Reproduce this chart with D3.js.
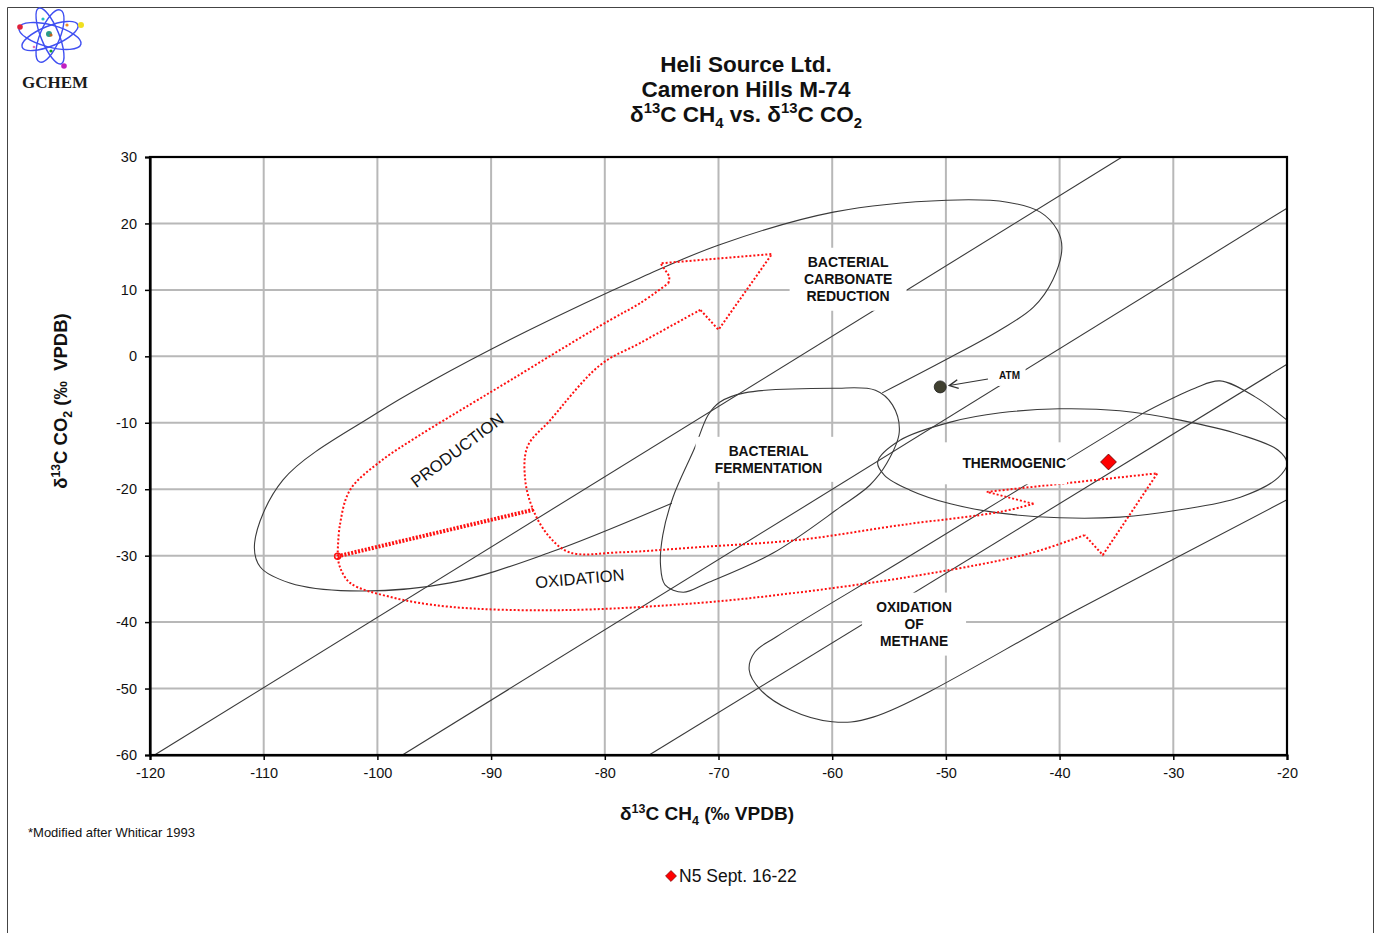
<!DOCTYPE html>
<html>
<head>
<meta charset="utf-8">
<script src="https://cdn.jsdelivr.net/npm/d3@7"></script>
<style>
  body { margin: 0; background: #fff; }
  text { font-family: "Liberation Sans", Arial, sans-serif; white-space: pre; }
</style>
</head>
<body>
<div id="container"></div>
<script>
let w = 1379;
let h = 933;

// ---- data (δ13C CH4, δ13C CO2) ----
let xTicks = [-120, -110, -100, -90, -80, -70, -60, -50, -40, -30, -20];
let yTicks = [30, 20, 10, 0, -10, -20, -30, -40, -50, -60];

// fractionation lines
let fracLines = [
  [[-119.6, -60], [-34.5, 30]],
  [[-97.8, -60], [-20, 22.3]],
  [[-76.1, -60], [-20, -1.2]]
];

// bacterial carbonate reduction field (open outline)
let carbonateField = [
  [-55.6, -5.5], [-50.1, -0.6], [-45.2, 4.0], [-42.3, 7.4], [-40.6, 11.5], [-39.8, 16.3],
  [-40.2, 19.0], [-41.7, 21.7], [-44.6, 23.2], [-49.9, 23.5], [-59.9, 21.7], [-69.9, 16.8],
  [-76.9, 11.8], [-86.6, 4.0], [-95.1, -3.6], [-100.0, -8.5], [-108.3, -18.6], [-110.8, -28.1],
  [-110.3, -31.7], [-107.7, -34.1], [-102.4, -35.3], [-93.6, -34.1], [-84.8, -29.5], [-74.1, -22.1]
];

// bacterial fermentation field
let fermentField = [
  [-69.9, -6.9], [-67.7, -5.5], [-59.9, -4.8], [-56.2, -5.1], [-54.7, -7.3], [-54.1, -11.4],
  [-55.2, -16.1], [-56.7, -19.4], [-59.3, -22.7], [-65.2, -29.6], [-71.0, -34.1], [-73.1, -35.5],
  [-74.7, -34.4], [-75.1, -31.4], [-74.9, -26.9], [-74.0, -21.2], [-72.1, -13.8], [-70.9, -8.8]
];

// thermogenic field
let thermoField = [
  [-56.0, -15.9], [-54.0, -12.6], [-49.6, -9.9], [-45.2, -8.5], [-40.0, -7.9], [-34.7, -8.2],
  [-29.4, -9.6], [-24.1, -11.8], [-20.8, -14.1], [-20.0, -16.1], [-20.8, -18.3], [-24.1, -21.2],
  [-29.4, -23.1], [-34.7, -24.2], [-40.0, -24.3], [-45.2, -23.6], [-49.6, -22.2], [-53.2, -20.1],
  [-55.4, -17.9]
];

// oxidation of methane field (open to the right)
let oxMethaneTop = [[-20.0, -9.6], [-22.8, -6.1], [-25.9, -3.7], [-28.1, -4.8], [-32.5, -8.4]];
let oxMethaneBand = [
  [-32.5, -8.4], [-43.1, -19.5], [-53.8, -30.7], [-64.9, -42.2], [-66.8, -44.5], [-67.3, -47.2],
  [-66.3, -50.2], [-63.7, -53.2], [-60.0, -55.0], [-56.4, -54.3], [-38.2, -37.9], [-20.0, -21.6]
];

// red production / oxidation pathway
let redProdOuter = [
  [-103.5, -30.1], [-103.3, -25.4], [-102.4, -20.1], [-99.8, -15.9], [-96.5, -12.1], [-91.9, -7.3],
  [-88.3, -3.6], [-83.9, 1.0], [-79.5, 5.5], [-76.9, 8.0], [-74.4, 11.0]
];
let redProdHead = [[-74.4, 11.0], [-74.3, 12.0], [-75.1, 14.0], [-65.3, 15.4], [-70.0, 4.0], [-71.6, 7.0]];
let redInner = [
  [-71.6, 7.0], [-76.9, 2.0], [-80.4, -1.3], [-84.8, -9.6], [-86.8, -13.6], [-87.0, -18.6],
  [-86.3, -23.1], [-85.0, -26.9], [-83.1, -29.5], [-78.7, -29.5], [-71.6, -28.7], [-62.8, -27.6],
  [-54.0, -25.4], [-45.2, -23.4], [-42.3, -22.2]
];
let redOxHead = [[-42.3, -22.2], [-46.4, -20.4], [-31.4, -17.6], [-36.2, -29.9], [-37.8, -26.9]];
let redOxOuter = [
  [-37.8, -26.9], [-41.7, -29.2], [-45.2, -30.7], [-54.0, -33.4], [-62.8, -35.5], [-71.6, -37.1],
  [-83.9, -38.2], [-93.6, -37.7], [-98.9, -36.2], [-102.4, -34.1], [-103.3, -31.7], [-103.5, -30.1]
];
let redSpoke = [[-103.5, -30.1], [-86.3, -23.1]];

let atmPoint = [-50.5, -4.6];
let atmArrow = [[-46.3, -3.4], [-49.7, -4.4]];
let sampleNames = ["N5 Sept. 16-22"];
let sampleCH4 = [-35.7];
let sampleCO2 = [-15.9];

let titleLines = ["Heli Source Ltd.", "Cameron Hills M-74"];

// ---- svg ----
let svg = d3.select("#container")
  .append("svg")
    .attr("width", w)
    .attr("height", h)
    .style("background-color", "white")
;

let xScale = d3.scaleLinear().domain([-120, -20]).range([150, 1287]);
let yScale = d3.scaleLinear().domain([-60, 30]).range([755, 157]);

// page border
svg.append("path")
  .attr("d", "M7.5,933 L7.5,7.5 L1373.5,7.5 L1373.5,933")
  .attr("fill", "none").attr("stroke", "#444").attr("stroke-width", 1);

// logo
let logo = svg.append("g").attr("transform", "translate(50,36)");
[[15, 32, 11], [-22, 30, 10], [68, 30, 9], [112, 28, 10]].forEach(function(o){
  logo.append("ellipse").attr("rx", o[1]).attr("ry", o[2])
    .attr("transform", "rotate(" + o[0] + ")")
    .attr("fill", "none").attr("stroke", "#3f4ff2").attr("stroke-width", 1.4);
});
[[-30, -9, "#e0203a", 2.8], [31, -11, "#f0e020", 3], [17, -11, "#f08a20", 1.6], [-7, -17, "#20c0c0", 1.6],
 [1, 15, "#10a020", 1.6], [14, 30, "#c020c0", 2.8], [-16, 11, "#e070c0", 1.3]].forEach(function(d){
  logo.append("circle").attr("cx", d[0]).attr("cy", d[1]).attr("r", d[3]).attr("fill", d[2]);
});
logo.append("circle").attr("cx", -1).attr("cy", -2).attr("r", 3).attr("fill", "#2a9a8a");
logo.append("circle").attr("cx", 1).attr("cy", -1).attr("r", 1.6).attr("fill", "#c06020");
svg.append("text").text("GCHEM")
  .attr("x", 55).attr("y", 88).attr("text-anchor", "middle")
  .style("font-family", "'Liberation Serif', 'Times New Roman', serif")
  .style("font-weight", "bold").style("font-size", "17px").attr("fill", "#1a1a1a");

// helper for sub / superscripts
function richText(sel, parts, size){
  parts.forEach(function(p){
    let t = sel.append("tspan").text(p[0]);
    if (p[1] == "sup") t.attr("dy", -size * 0.38).style("font-size", (size * 0.66) + "px");
    if (p[1] == "sub") t.attr("dy", size * 0.25).style("font-size", (size * 0.66) + "px");
    if (p[1] == "up") t.attr("dy", size * 0.38);
    if (p[1] == "down") t.attr("dy", -size * 0.25);
  });
}

// title
titleLines.forEach(function(t, i){
  svg.append("text").text(t)
    .attr("x", 746).attr("y", 72 + i * 25).attr("text-anchor", "middle")
    .style("font-weight", "bold").style("font-size", "22.5px").attr("fill", "#111");
});
let t3 = svg.append("text").attr("x", 746).attr("y", 122).attr("text-anchor", "middle")
  .style("font-weight", "bold").style("font-size", "22.5px").attr("fill", "#111");
richText(t3, [["δ"], ["13", "sup"], ["C CH", "up"], ["4", "sub"], [" vs. δ", "down"], ["13", "sup"], ["C CO", "up"], ["2", "sub"]], 22.5);

// grid
svg.append("g").selectAll("line").data(xTicks.slice(1, -1)).enter()
  .append("line")
    .attr("x1", d => xScale(d)).attr("x2", d => xScale(d))
    .attr("y1", yScale(30)).attr("y2", yScale(-60))
    .attr("stroke", "#b8b8b8").attr("stroke-width", 2);
svg.append("g").selectAll("line").data(yTicks.slice(1, -1)).enter()
  .append("line")
    .attr("x1", xScale(-120)).attr("x2", xScale(-20))
    .attr("y1", d => yScale(d)).attr("y2", d => yScale(d))
    .attr("stroke", "#b8b8b8").attr("stroke-width", 2);

let line = d3.line().x(d => xScale(d[0])).y(d => yScale(d[1]));
let smooth = d3.line().x(d => xScale(d[0])).y(d => yScale(d[1])).curve(d3.curveCatmullRom.alpha(0.5));
let smoothClosed = d3.line().x(d => xScale(d[0])).y(d => yScale(d[1])).curve(d3.curveCatmullRomClosed.alpha(0.5));

let shapes = svg.append("g").attr("fill", "none").attr("stroke", "#3a3a3a").attr("stroke-width", 1.1);
fracLines.forEach(function(l){ shapes.append("path").attr("d", line(l)); });
shapes.append("path").attr("d", smooth(carbonateField));
shapes.append("path").attr("d", smoothClosed(fermentField));
shapes.append("path").attr("d", smoothClosed(thermoField));
shapes.append("path").attr("d", smooth(oxMethaneTop));
shapes.append("path").attr("d", smooth(oxMethaneBand));

// red pathway
let red = svg.append("g").attr("fill", "none").attr("stroke", "#ff1010")
  .attr("stroke-width", 2).attr("stroke-dasharray", "2 2");
red.append("path").attr("d", smooth(redProdOuter));
red.append("path").attr("d", line(redProdHead));
red.append("path").attr("d", smooth(redInner));
red.append("path").attr("d", line(redOxHead));
red.append("path").attr("d", smooth(redOxOuter));
red.append("path").attr("d", line(redSpoke)).attr("stroke-width", 4).attr("stroke-dasharray", "2 1.5");
svg.append("circle").attr("cx", xScale(redSpoke[0][0])).attr("cy", yScale(redSpoke[0][1]))
  .attr("r", 3).attr("fill", "none").attr("stroke", "#ff1010").attr("stroke-width", 1.5);

// labels with white boxes
function boxLabel(cx, cy, lines, bw, bh, size, dx){
  let px = xScale(cx), py = yScale(cy);
  svg.append("rect")
    .attr("x", px - bw / 2 + (dx || 0)).attr("y", py - bh / 2)
    .attr("width", bw).attr("height", bh).attr("fill", "white");
  lines.forEach(function(t, i){
    svg.append("text").text(t)
      .attr("x", px).attr("y", py + (i - (lines.length - 1) / 2) * 17 + size * 0.36)
      .attr("text-anchor", "middle")
      .style("font-weight", "bold").style("font-size", size + "px").attr("fill", "#111");
  });
}
boxLabel(-58.6, 11.6, ["BACTERIAL", "CARBONATE", "REDUCTION"], 117, 63, 14);
boxLabel(-65.6, -15.5, ["BACTERIAL", "FERMENTATION"], 146, 45, 13.8);
boxLabel(-44.0, -16.1, ["THERMOGENIC"], 124, 42, 13.8, -9);
boxLabel(-52.8, -40.3, ["OXIDATION", "OF", "METHANE"], 104, 63, 13.8);
boxLabel(-44.4, -2.8, ["ATM"], 32, 22, 10);

// ATM arrow and point
svg.append("defs").append("marker")
  .attr("id", "open").attr("viewBox", "0 0 10 10").attr("refX", 9).attr("refY", 5)
  .attr("markerWidth", 11).attr("markerHeight", 11).attr("orient", "auto")
  .attr("markerUnits", "userSpaceOnUse")
  .append("path").attr("d", "M1,1 L9,5 L1,9").attr("fill", "none").attr("stroke", "#333").attr("stroke-width", 1.3);
svg.append("path").attr("d", line(atmArrow))
  .attr("stroke", "#333").attr("stroke-width", 1.1).attr("marker-end", "url(#open)");
svg.append("circle").attr("cx", xScale(atmPoint[0])).attr("cy", yScale(atmPoint[1]))
  .attr("r", 6).attr("fill", "#404030").attr("stroke", "#222").attr("stroke-width", 0.8);

// rotated labels
svg.append("text").text("PRODUCTION")
  .attr("transform", "translate(" + xScale(-93.0) + "," + yScale(-14.1) + ") rotate(-37)")
  .attr("text-anchor", "middle").attr("dy", 6)
  .style("font-size", "16.5px").attr("fill", "#111");
svg.append("text").text("OXIDATION")
  .attr("transform", "translate(" + xScale(-82.2) + "," + yScale(-33.4) + ") rotate(-5)")
  .attr("text-anchor", "middle").attr("dy", 6)
  .style("font-size", "16.5px").attr("fill", "#111");

// sample
let diamond = d3.symbol().type(d3.symbolSquare).size(125);
svg.append("g").selectAll("path").data(sampleCH4).enter()
  .append("path")
    .attr("d", diamond)
    .attr("transform", (d, i) => "translate(" + xScale(d) + "," + yScale(sampleCO2[i]) + ") rotate(45)")
    .attr("fill", "#ff0000").attr("stroke", "#600").attr("stroke-width", 0.8);

// frame + axes
svg.append("rect")
  .attr("x", xScale(-120)).attr("y", yScale(30))
  .attr("width", xScale(-20) - xScale(-120)).attr("height", yScale(-60) - yScale(30))
  .attr("fill", "none").attr("stroke", "#000").attr("stroke-width", 2.2);

let xAxis = svg.append("g").attr("transform", "translate(0," + yScale(-60) + ")")
  .call(d3.axisBottom(xScale).tickValues(xTicks).tickSize(5).tickPadding(8).tickFormat(d => d));
let yAxis = svg.append("g").attr("transform", "translate(" + xScale(-120) + ",0)")
  .call(d3.axisLeft(yScale).tickValues(yTicks).tickSize(5).tickPadding(8).tickFormat(d => d));
[xAxis, yAxis].forEach(function(a){
  a.select(".domain").attr("stroke", "#000").attr("stroke-width", 2.2);
  a.selectAll(".tick line").attr("stroke", "#000").attr("stroke-width", 1.5);
  a.selectAll(".tick text")
    .style("font-family", "'Liberation Sans Narrow', 'Liberation Sans', Arial, sans-serif")
    .style("font-size", "14.5px").attr("fill", "#111");
});

// axis titles
let xt = svg.append("text").attr("x", 707).attr("y", 820).attr("text-anchor", "middle")
  .style("font-weight", "bold").style("font-size", "19px").attr("fill", "#111");
richText(xt, [["δ"], ["13", "sup"], ["C CH", "up"], ["4", "sub"], [" (‰ VPDB)", "down"]], 19);
let yt = svg.append("text").attr("transform", "translate(67,401) rotate(-90)").attr("text-anchor", "middle")
  .style("font-weight", "bold").style("font-size", "18.5px").attr("fill", "#111");
richText(yt, [["δ"], ["13", "sup"], ["C CO", "up"], ["2", "sub"], [" (‰  VPDB)", "down"]], 18.5);

// footnote
svg.append("text").text("*Modified after Whiticar 1993")
  .attr("x", 28).attr("y", 837)
  .style("font-size", "13px").attr("fill", "#111");

// legend
let legend = svg.append("g").attr("transform", "translate(671,876)");
legend.append("path").attr("d", d3.symbol().type(d3.symbolSquare).size(60))
  .attr("transform", "rotate(45)").attr("fill", "#ff0000").attr("stroke", "#600").attr("stroke-width", 0.6);
legend.append("text").text(sampleNames[0]).attr("x", 8).attr("y", 6)
  .style("font-size", "17.5px").attr("fill", "#111");
</script>
</body>
</html>
